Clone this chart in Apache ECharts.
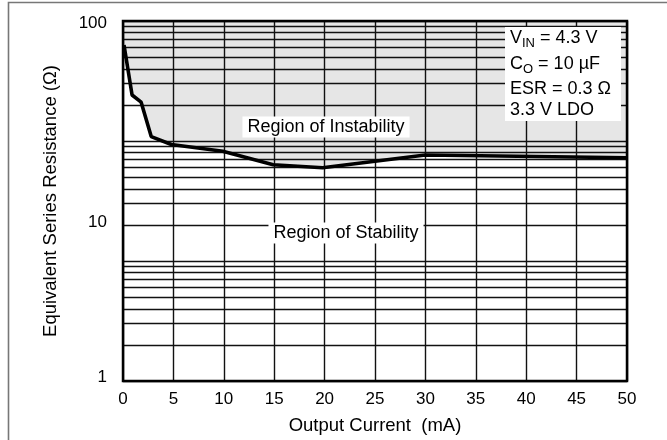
<!DOCTYPE html>
<html><head><meta charset="utf-8">
<script src="https://cdn.jsdelivr.net/npm/echarts@6/dist/echarts.min.js"></script>
<style>html,body{margin:0;padding:0;background:#fff}#c{width:667px;height:440px}</style>
</head><body><div id="c"></div>
<script>
// Output current (mA) and boundary ESR (ohm)
const currentMA = [0.1, 0.9, 1.8, 2.8, 4.8, 9.9, 14.9, 19.8, 30, 50];
const esrOhm    = [73.6, 38.8, 35.4, 22.8, 20.6, 18.9, 15.9, 15.3, 18.0, 17.4];
const xTickStep = 5;
const yLabelValues = [1, 10, 100];
// printed chart grid: three log decades of minor lines
const gridMinorValues = [2,3,4,5,6,7,8,9,20,30,40,50,60,70,80,90,200,300,400,500,600,700,800,900];
const noteLines = ['{t|V}{s|IN}{t| = 4.3 V}', '{t|C}{s|O}{t| = 10 µF}', '{t|ESR = 0.3 Ω}', '{t|3.3 V LDO}'];

const FONT = '"Liberation Sans", Arial, sans-serif';
const chart = echarts.init(document.getElementById('c'), null, {renderer: 'canvas'});
const curve = currentMA.map((x, i) => [x, esrOhm[i]]);
const lineCol = '#111';

chart.setOption({
  animation: false,
  grid: {left: 123, right: 40, top: 21, bottom: 57, show: true, borderColor: '#000', borderWidth: 2.5, backgroundColor: 'transparent', z: 6},
  xAxis: {
    type: 'value', min: 0, max: 50, interval: xTickStep, z: 3,
    name: 'Output Current  (mA)', nameLocation: 'middle', nameGap: 35,
    nameTextStyle: {fontFamily: FONT, fontSize: 18.5, color: '#000'},
    axisLine: {show: false}, axisTick: {show: false},
    axisLabel: {fontFamily: FONT, fontSize: 17, color: '#000', margin: 10},
    splitLine: {show: true, lineStyle: {color: lineCol, width: 1.4}}
  },
  yAxis: [
    {type: 'log', logBase: 10, min: 1, max: 1000, z: 3,
     axisLine: {show: false}, axisTick: {show: false}, axisLabel: {show: false},
     splitLine: {show: true, lineStyle: {color: lineCol, width: 1.4}}},
    {type: 'log', logBase: 10, min: 1, max: 100, position: 'left', z: 3,
     name: 'Equivalent Series Resistance (Ω)', nameLocation: 'middle', nameGap: 63, nameRotate: 90,
     nameTextStyle: {fontFamily: FONT, fontSize: 18.5, color: '#000'},
     axisLine: {show: false}, axisTick: {show: false}, splitLine: {show: false},
     axisLabel: {fontFamily: FONT, fontSize: 17, color: '#000', margin: 16,
       formatter: v => (v === yLabelValues[1] ? '{d|' + v + '}' : (v === yLabelValues[0] ? '{b|' + v + '}' : '{u|' + v + '}')),
       rich: {d: {fontFamily: FONT, fontSize: 17, color: '#000', padding: [42, 0, 0, 0]},
              b: {fontFamily: FONT, fontSize: 17, color: '#000', padding: [0, 0, 8, 0]},
              u: {fontFamily: FONT, fontSize: 17, color: '#000', padding: [4, 0, 0, 0]}}}}
  ],
  series: [
    {type: 'line', yAxisIndex: 1, z: 1, data: curve, symbol: 'none', silent: true,
     lineStyle: {width: 0}, areaStyle: {origin: 'end', color: '#e6e6e6', opacity: 1}},
    {type: 'line', yAxisIndex: 0, z: 3, data: [], silent: true,
     markLine: {silent: true, symbol: 'none', label: {show: false}, animation: false,
       lineStyle: {type: 'solid', color: lineCol, width: 1.4},
       data: gridMinorValues.map(v => ({yAxis: v}))}},
    {type: 'line', yAxisIndex: 1, z: 8, data: curve, symbol: 'none', silent: true,
     lineStyle: {color: '#000', width: 3.6}}
  ],
  graphic: [
    {type: 'rect', z: 0, shape: {x: 8.5, y: 2.5, width: 700, height: 500}, style: {fill: 'none', stroke: '#777', lineWidth: 1.6}},
    {type: 'text', z: 50, x: 326, y: 127, style: {text: 'Region of Instability', fontFamily: FONT, fontSize: 18, fill: '#000', backgroundColor: '#fff', padding: [2, 5, 1, 5], align: 'center', verticalAlign: 'middle'}},
    {type: 'text', z: 50, x: 346, y: 233, style: {text: 'Region of Stability', fontFamily: FONT, fontSize: 18, fill: '#000', backgroundColor: '#fff', padding: [2, 5, 1, 5], align: 'center', verticalAlign: 'middle'}},
    {type: 'rect', z: 50, shape: {x: 505, y: 27, width: 116, height: 94}, style: {fill: '#fff'}},
    {type: 'text', z: 51, x: 510, y: 38, style: {text: noteLines[0], align: 'left', verticalAlign: 'middle', rich: {t: {fontFamily: FONT, fontSize: 18, fill: '#000'}, s: {fontFamily: FONT, fontSize: 13, fill: '#000', padding: [10, 0, 0, 0]}}}},
    {type: 'text', z: 51, x: 510, y: 64, style: {text: noteLines[1], align: 'left', verticalAlign: 'middle', rich: {t: {fontFamily: FONT, fontSize: 18, fill: '#000'}, s: {fontFamily: FONT, fontSize: 13, fill: '#000', padding: [10, 0, 0, 0]}}}},
    {type: 'text', z: 51, x: 510, y: 89, style: {text: noteLines[2], align: 'left', verticalAlign: 'middle', rich: {t: {fontFamily: FONT, fontSize: 18, fill: '#000'}}}},
    {type: 'text', z: 51, x: 510, y: 110, style: {text: noteLines[3], align: 'left', verticalAlign: 'middle', rich: {t: {fontFamily: FONT, fontSize: 18, fill: '#000'}}}}
  ]
});
</script></body></html>
